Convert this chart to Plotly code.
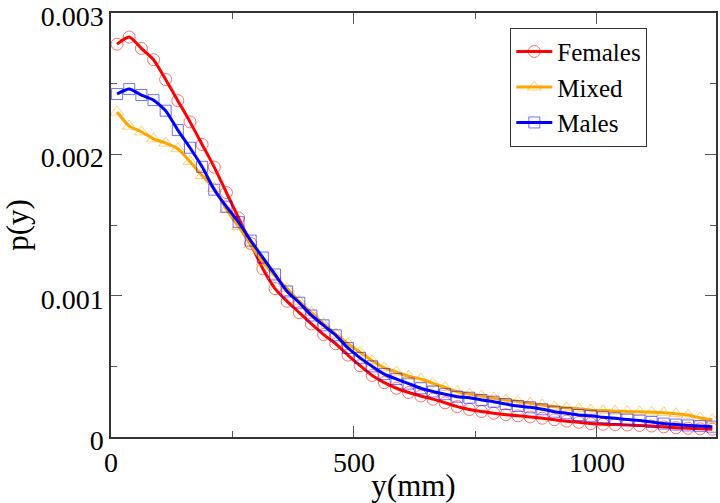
import plotly.graph_objects as go

# bin centres (mm)
y_mm = [12.5 + 25 * k for k in range(50)]

females = [0.00278, 0.00283, 0.00275, 0.00267, 0.00253, 0.00238, 0.00223, 0.00207, 0.00191, 0.00173,
           0.00155, 0.00137, 0.00119, 0.00105, 0.00096, 0.00088, 0.00080, 0.000725, 0.00066, 0.00058,
           0.000505, 0.000435, 0.000385, 0.000345, 0.000315, 0.00029, 0.000268, 0.000242, 0.000215, 0.000195,
           0.00018, 0.000168, 0.000158, 0.00015, 0.000142, 0.000133, 0.000122, 0.000112, 0.000104, 0.000095,
           0.00009, 0.000088, 0.000085, 0.000082, 0.000078, 0.000072, 0.000066, 0.000062, 0.000058, 0.000055]

mixed = [0.00230, 0.00220, 0.00216, 0.00211, 0.00208, 0.00204, 0.00195, 0.00185, 0.00176, 0.00161,
         0.00149, 0.00136, 0.00124, 0.00114, 0.00105, 0.00096, 0.00088, 0.00080, 0.00073, 0.00066,
         0.00060, 0.00054, 0.00049, 0.00046, 0.00043, 0.00041, 0.00038, 0.00035, 0.00032, 0.000304,
         0.00029, 0.000274, 0.000262, 0.000252, 0.000238, 0.000226, 0.000214, 0.000207, 0.0002, 0.00019,
         0.000187, 0.000183, 0.00018, 0.000178, 0.000175, 0.000172, 0.000165, 0.000155, 0.000135, 0.000122]

males = [0.002427, 0.002462, 0.00242, 0.002384, 0.002309, 0.002172, 0.002047, 0.001912, 0.00175, 0.00163,
         0.00152, 0.00139, 0.00127, 0.00115, 0.00103, 0.00095, 0.00086, 0.00079, 0.00072, 0.00063,
         0.00056, 0.00050, 0.000445, 0.00041, 0.000378, 0.000345, 0.000322, 0.000303, 0.000285, 0.000278,
         0.000262, 0.00025, 0.000233, 0.000219, 0.00021, 0.000196, 0.000179, 0.000168, 0.000156, 0.00015,
         0.00014, 0.000132, 0.000124, 0.000116, 0.000106, 0.000095, 0.000088, 0.000082, 0.000077, 0.000073]

y_ticks = [0, 0.001, 0.002, 0.003]
y_tick_labels = ["0", "0.001", "0.002", "0.003"]
x_ticks = [0, 500, 1000]
x_tick_labels = ["0", "500", "1000"]

FONT = "Liberation Serif, Times New Roman, serif"

fig = go.Figure()
series = [
    ("Females", females, "#ff0000", "circle-open", 12),
    ("Mixed", mixed, "#ffa500", "triangle-up-open", 12),
    ("Males", males, "#0000ff", "square-open", 11),
]
for name, vals, col, sym, sz in series:
    fig.add_trace(go.Scatter(
        x=y_mm, y=vals, name=name, mode="lines+markers",
        line=dict(color=col, width=3, shape="spline", smoothing=0.6),
        marker=dict(symbol=sym, size=sz, color=col, opacity=0.55,
                    line=dict(color=col, width=1)),
    ))

axis_common = dict(
    showline=True, linecolor="#333333", linewidth=1.5, mirror="ticks",
    ticks="inside", ticklen=11, tickwidth=1, tickcolor="#555555",
    showgrid=False, zeroline=False, automargin=False,
    ticklabeloverflow="allow",
    tickfont=dict(family=FONT, size=28, color="black"),
)

fig.update_layout(
    width=720, height=503,
    margin=dict(l=111, r=4, t=13, b=66),
    paper_bgcolor="white", plot_bgcolor="white",
    font=dict(family=FONT, color="black"),
    showlegend=True,
    legend=dict(
        x=0.66, y=0.825, xanchor="left", yanchor="middle",
        bgcolor="white", bordercolor="#333333", borderwidth=1,
        font=dict(family=FONT, size=25, color="black"),
        tracegroupgap=0, itemwidth=36,
    ),
    xaxis=dict(
        axis_common, range=[0, 1245],
        tickvals=x_ticks, ticktext=x_tick_labels,
        minor=dict(ticks="inside", ticklen=6, dtick=250, tickcolor="#555555"),
        title=dict(text="y(mm)", font=dict(family=FONT, size=31), standoff=0),
    ),
    yaxis=dict(
        axis_common, range=[0, 0.0030005],
        tickvals=y_ticks, ticktext=y_tick_labels, ticklabelshift=3,
        minor=dict(ticks="inside", ticklen=6, dtick=0.0005, tickcolor="#555555"),
        title=dict(text="p(y)", font=dict(family=FONT, size=31), standoff=6),
    ),
)

fig.write_html("out.html", config={"displayModeBar": False},
               post_script="document.body.style.margin='0';")
